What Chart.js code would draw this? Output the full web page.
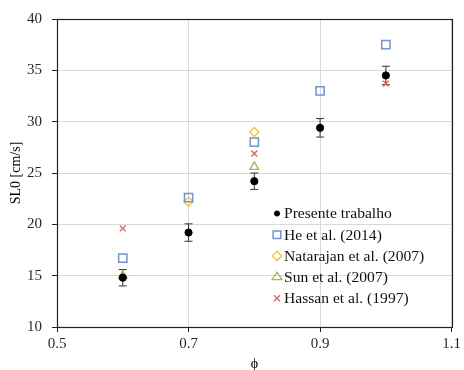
<!DOCTYPE html>
<html>
<head>
<meta charset="utf-8">
<script src="https://cdn.jsdelivr.net/npm/chart.js@4.4.1/dist/chart.umd.min.js"></script>
<style>
html,body{margin:0;padding:0;background:#fff;}
#wrap{position:relative;width:464px;height:370px;}
</style>
</head>
<body>
<div id="wrap"><canvas id="c" width="464" height="370"></canvas></div>
<script>
// ---- data ----
const presenteX = [0.6, 0.7, 0.8, 0.9, 1.0];
const presenteY = [14.8, 19.2, 24.2, 29.4, 34.5];
const presenteErr = [0.8, 0.85, 0.8, 0.9, 0.9];
const heX = [0.6, 0.7, 0.8, 0.9, 1.0];
const heY = [16.7, 22.6, 28.0, 33.0, 37.5];
const natarajanX = [0.7, 0.8];
const natarajanY = [22.2, 29.0];
const sunX = [0.6, 0.8];
const sunY = [15.0, 25.6];
const hassanX = [0.6, 0.8, 1.0];
const hassanY = [19.6, 26.9, 33.7];
const seriesNames = ['Presente trabalho', 'He et al. (2014)', 'Natarajan et al. (2007)', 'Sun et al. (2007)', 'Hassan et al. (1997)'];
const xTicks = [0.5, 0.7, 0.9, 1.1];
const yTicks = [10, 15, 20, 25, 30, 35, 40];

const pts = (xs, ys) => xs.map((x, i) => ({x: x, y: ys[i]}));
const SERIF = '"Liberation Serif", "Times New Roman", serif';

const styles = [
  {pointStyle: 'circle', pointRadius: 3.6, borderColor: '#000', backgroundColor: '#000', borderWidth: 1},
  {pointStyle: 'rect', pointRadius: 5.8, borderColor: '#6f94cc', backgroundColor: 'rgba(0,0,0,0)', borderWidth: 1.5},
  {pointStyle: 'rectRot', pointRadius: 4.6, borderColor: '#f8c030', backgroundColor: 'rgba(0,0,0,0)', borderWidth: 1.3},
  {pointStyle: 'triangle', pointRadius: 5, borderColor: '#9bbb59', backgroundColor: 'rgba(0,0,0,0)', borderWidth: 1.3},
  {pointStyle: 'crossRot', pointRadius: 4.2, borderColor: '#e06060', backgroundColor: 'rgba(0,0,0,0)', borderWidth: 1.3}
];
const dataSets = [pts(presenteX, presenteY), pts(heX, heY), pts(natarajanX, natarajanY), pts(sunX, sunY), pts(hassanX, hassanY)];

const datasets = dataSets.map((d, i) => Object.assign({
  label: seriesNames[i],
  data: d,
  showLine: false,
  pointHoverRadius: styles[i].pointRadius,
  pointBorderWidth: styles[i].borderWidth,
  pointBorderColor: styles[i].borderColor,
  pointBackgroundColor: styles[i].backgroundColor
}, styles[i]));

const errorBars = {
  id: 'errorBars',
  beforeDatasetsDraw(chart) {
    const ctx = chart.ctx, xs = chart.scales.x, ys = chart.scales.y;
    ctx.save();
    ctx.strokeStyle = '#333';
    ctx.lineWidth = 1;
    presenteX.forEach((xv, i) => {
      const px = xs.getPixelForValue(xv);
      const y1 = ys.getPixelForValue(presenteY[i] + presenteErr[i]);
      const y2 = ys.getPixelForValue(presenteY[i] - presenteErr[i]);
      ctx.beginPath();
      ctx.moveTo(px, y1); ctx.lineTo(px, y2);
      ctx.moveTo(px - 4, y1); ctx.lineTo(px + 4, y1);
      ctx.moveTo(px - 4, y2); ctx.lineTo(px + 4, y2);
      ctx.stroke();
    });
    ctx.restore();
  }
};

const frame = {
  id: 'frame',
  afterDraw(chart) {
    const ctx = chart.ctx, a = chart.chartArea;
    ctx.save();
    ctx.strokeStyle = '#222';
    ctx.lineWidth = 1.2;
    ctx.strokeRect(Math.round(a.left) + 0.5, Math.round(a.top) + 0.5, Math.round(a.right - a.left), Math.round(a.bottom - a.top));
    ctx.restore();
  }
};

function drawMarker(ctx, st, x, y) {
  ctx.save();
  ctx.strokeStyle = st.borderColor;
  ctx.fillStyle = st.backgroundColor;
  ctx.lineWidth = st.borderWidth;
  const r = st.pointRadius;
  ctx.beginPath();
  if (st.pointStyle === 'circle') {
    ctx.arc(x, y, r, 0, Math.PI * 2); ctx.fill(); ctx.stroke();
  } else if (st.pointStyle === 'rect') {
    const s = Math.SQRT1_2 * r; ctx.rect(x - s, y - s, 2 * s, 2 * s); ctx.stroke();
  } else if (st.pointStyle === 'rectRot') {
    ctx.moveTo(x, y - r); ctx.lineTo(x + r, y); ctx.lineTo(x, y + r); ctx.lineTo(x - r, y); ctx.closePath(); ctx.stroke();
  } else if (st.pointStyle === 'triangle') {
    const h = r * 1.5;
    ctx.moveTo(x - r * 0.866 * 1.15, y + h / 3); ctx.lineTo(x, y - 2 * h / 3); ctx.lineTo(x + r * 0.866 * 1.15, y + h / 3); ctx.closePath(); ctx.stroke();
  } else if (st.pointStyle === 'crossRot') {
    const s = Math.SQRT1_2 * r;
    ctx.moveTo(x - s, y - s); ctx.lineTo(x + s, y + s); ctx.moveTo(x + s, y - s); ctx.lineTo(x - s, y + s); ctx.stroke();
  }
  ctx.restore();
}

const legendBox = {
  id: 'legendBox',
  afterDraw(chart) {
    const ctx = chart.ctx;
    const mx = 277, tx = 284, y0 = 213.5, dy = 21.2;
    ctx.save();
    ctx.font = '14.5px ' + SERIF;
    ctx.fillStyle = '#111';
    ctx.textBaseline = 'middle';
    ctx.textAlign = 'left';
    seriesNames.forEach((n, i) => {
      const y = y0 + i * dy;
      const st = Object.assign({}, styles[i]);
      if (i === 0) st.pointRadius = 2.6;
      if (i === 1) st.pointRadius = 5.4;
      drawMarker(ctx, st, mx, y);
      ctx.save();
      ctx.translate(tx, y + 1);
      ctx.scale(1.075, 1);
      ctx.fillText(n, 0, 0);
      ctx.restore();
    });
    ctx.restore();
  }
};

new Chart(document.getElementById('c'), {
  type: 'scatter',
  data: {datasets: datasets},
  plugins: [errorBars, frame, legendBox],
  options: {
    responsive: false,
    animation: false,
    events: [],
    layout: {padding: {left: 0, top: 16, right: 11, bottom: 0}},
    plugins: {legend: {display: false}, tooltip: {enabled: false}},
    scales: {
      x: {
        type: 'linear',
        min: xTicks[0],
        max: xTicks[xTicks.length - 1],
        afterBuildTicks: (s) => { s.ticks = xTicks.map(v => ({value: v})); },
        afterFit: (s) => { s.height = 43; },
        ticks: {
          callback: (v) => Number(v).toFixed(1),
          font: {family: SERIF, size: 15},
          color: '#1f2633',
          padding: 3,
          maxRotation: 0
        },
        grid: {color: '#d9d9d9', tickColor: '#222', tickLength: 5, lineWidth: 1},
        border: {display: false},
        title: {display: true, text: 'ϕ', font: {family: SERIF, size: 14, lineHeight: 0.8}, color: '#000', padding: 0}
      },
      y: {
        type: 'linear',
        min: yTicks[0],
        max: yTicks[yTicks.length - 1],
        afterBuildTicks: (s) => { s.ticks = yTicks.map(v => ({value: v})); },
        afterFit: (s) => { s.width = 57; },
        ticks: {
          font: {family: SERIF, size: 15},
          color: '#1f2633',
          padding: 10
        },
        grid: {color: '#d9d9d9', tickColor: '#222', tickLength: 5, lineWidth: 1},
        border: {display: false},
        title: {display: true, text: 'SL0 [cm/s]', font: {family: SERIF, size: 14}, color: '#000', padding: {top: 8, bottom: 0}}
      }
    }
  }
});
</script>
</body>
</html>
